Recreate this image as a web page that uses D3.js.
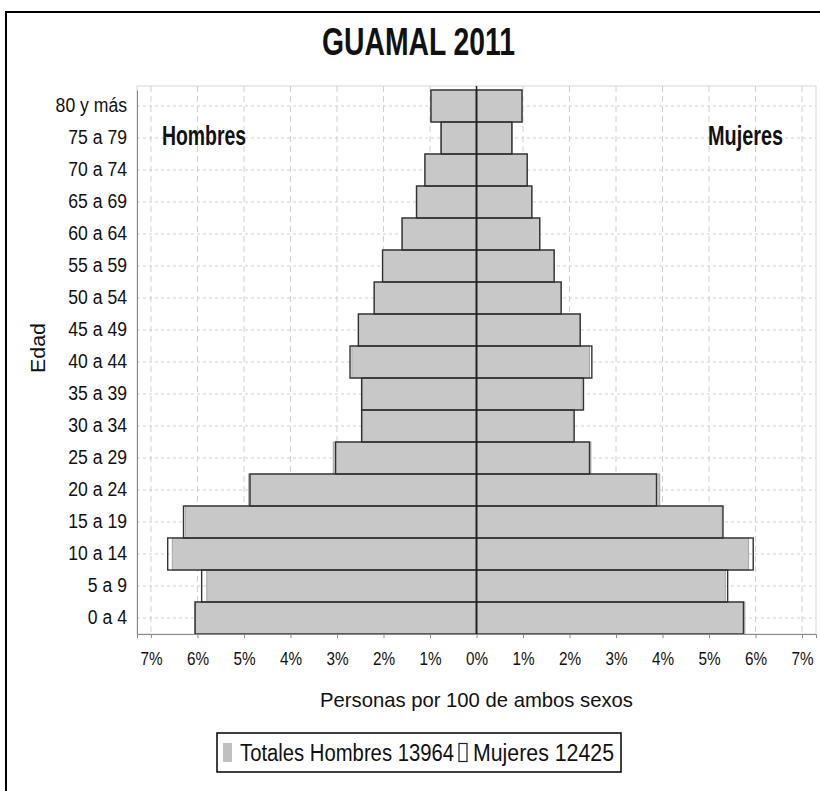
<!DOCTYPE html>
<html><head><meta charset="utf-8">
<script src="https://cdn.jsdelivr.net/npm/d3@7"></script>
<style>
body{margin:0;background:#fff;}
svg{display:block;}
text{font-family:"Liberation Sans",Arial,sans-serif;fill:#111;}
</style>
</head><body>
<svg id="chart" width="820" height="791"></svg>
<script>
// ---- data ----
const categories = ["0 a 4","5 a 9","10 a 14","15 a 19","20 a 24","25 a 29","30 a 34","35 a 39","40 a 44","45 a 49","50 a 54","55 a 59","60 a 64","65 a 69","70 a 74","75 a 79","80 y más"];
// grey filled bars (totales)
const totalMale   = [6.06,5.80,6.54,6.26,4.90,3.08,2.45,2.45,2.68,2.54,2.20,2.02,1.60,1.28,1.10,0.77,0.97];
const totalFemale = [5.77,5.35,5.85,5.28,3.94,2.46,2.08,2.27,2.43,2.23,1.82,1.67,1.36,1.19,1.09,0.77,0.97];
// outlined bars
const outlineMale   = [6.05,5.91,6.64,6.30,4.87,3.03,2.47,2.47,2.72,2.54,2.20,2.02,1.60,1.29,1.11,0.76,0.98];
const outlineFemale = [5.74,5.40,5.95,5.30,3.87,2.43,2.10,2.30,2.48,2.23,1.82,1.67,1.36,1.19,1.09,0.76,0.98];
const tickValues = [-7,-6,-5,-4,-3,-2,-1,0,1,2,3,4,5,6,7];
const titleText = "GUAMAL 2011";
const xTitle = "Personas por 100 de ambos sexos";
const yTitle = "Edad";
const leftLabel = "Hombres", rightLabel = "Mujeres";
const legendItems = ["Totales Hombres 13964", "Mujeres 12425"];

// ---- layout ----
const svg = d3.select("#chart");
const P = {left:137, right:816, top:86, bottom:634};
const x = d3.scaleLinear().domain([-7.3,7.3]).range([P.left,P.right]);
const y = d3.scaleBand().domain(categories.slice().reverse()).range([90,P.bottom]).paddingInner(0).paddingOuter(0);

function squeeze(sel, ratio){
  sel.each(function(){
    const w = this.getComputedTextLength();
    d3.select(this).attr("textLength", w*ratio).attr("lengthAdjust","spacingAndGlyphs");
  });
}
function fitWidth(sel, w){
  sel.attr("textLength", w).attr("lengthAdjust","spacingAndGlyphs");
}

// outer frame
svg.append("rect").attr("x",6).attr("y",12).attr("width",830).attr("height",800)
  .attr("fill","none").attr("stroke","#000").attr("stroke-width",2);

// title
svg.append("text").attr("x",418.5).attr("y",55).attr("text-anchor","middle")
  .attr("font-size",38).attr("font-weight","bold").text(titleText).call(fitWidth,193);

// plot background/border
svg.append("rect").attr("x",P.left).attr("y",P.top).attr("width",P.right-P.left).attr("height",P.bottom-P.top)
  .attr("fill","#fff").attr("stroke","#d8d8d8").attr("stroke-width",1);

// gridlines
const grid = svg.append("g");
grid.selectAll("line.v").data(tickValues.filter(d=>d!==0)).join("line")
  .attr("x1",d=>x(d)).attr("x2",d=>x(d)).attr("y1",P.top).attr("y2",P.bottom)
  .attr("stroke","#d0d0d0").attr("stroke-width",1).attr("stroke-dasharray","6,4");
grid.selectAll("line.h").data(categories).join("line")
  .attr("x1",P.left).attr("x2",P.right).attr("y1",d=>y(d)+y.bandwidth()/2).attr("y2",d=>y(d)+y.bandwidth()/2)
  .attr("stroke","#d0d0d0").attr("stroke-width",1).attr("stroke-dasharray","3,3");

// grey bars
const bars = svg.append("g");
bars.selectAll("rect.gm").data(categories).join("rect")
  .attr("x",(d,i)=>x(-totalMale[i])).attr("y",d=>y(d))
  .attr("width",(d,i)=>x(0)-x(-totalMale[i])).attr("height",y.bandwidth())
  .attr("fill","#c8c8c8").attr("stroke","#a8a8a8").attr("stroke-width",1);
bars.selectAll("rect.gf").data(categories).join("rect")
  .attr("x",x(0)).attr("y",d=>y(d))
  .attr("width",(d,i)=>x(totalFemale[i])-x(0)).attr("height",y.bandwidth())
  .attr("fill","#c8c8c8").attr("stroke","#a8a8a8").attr("stroke-width",1);
// outline bars
const outl = svg.append("g");
outl.selectAll("rect.om").data(categories).join("rect")
  .attr("x",(d,i)=>x(-outlineMale[i])).attr("y",d=>y(d))
  .attr("width",(d,i)=>x(0)-x(-outlineMale[i])).attr("height",y.bandwidth())
  .attr("fill","none").attr("stroke","#333").attr("stroke-width",1.4);
outl.selectAll("rect.of").data(categories).join("rect")
  .attr("x",x(0)).attr("y",d=>y(d))
  .attr("width",(d,i)=>x(outlineFemale[i])-x(0)).attr("height",y.bandwidth())
  .attr("fill","none").attr("stroke","#333").attr("stroke-width",1.4);

// center line
svg.append("line").attr("x1",x(0)).attr("x2",x(0)).attr("y1",P.top).attr("y2",P.bottom)
  .attr("stroke","#222").attr("stroke-width",1.5);

// axes
const xAxis = svg.append("g").attr("transform",`translate(0,${P.bottom})`)
  .call(d3.axisBottom(x).tickValues(tickValues).tickSize(4).tickPadding(14).tickFormat(d=>Math.abs(d)+"%"));
xAxis.select(".domain").attr("stroke","#888");
xAxis.selectAll(".tick line").attr("stroke","#888");
xAxis.selectAll(".tick text").attr("font-size",18).attr("font-family",'"Liberation Sans",Arial,sans-serif').attr("fill","#111").call(squeeze,0.85);

const yAxis = svg.append("g").attr("transform",`translate(${P.left},0)`)
  .call(d3.axisLeft(y).tickSize(0).tickPadding(10));
yAxis.select(".domain").attr("stroke","#888");
yAxis.selectAll(".tick text").attr("font-size",20).attr("font-family",'"Liberation Sans",Arial,sans-serif').attr("fill","#111").call(squeeze,0.88);

// axis titles
svg.append("text").attr("x",476.5).attr("y",707).attr("text-anchor","middle")
  .attr("font-size",21).text(xTitle).call(fitWidth,313);
svg.append("text").attr("transform","translate(45,348) rotate(-90)").attr("text-anchor","middle")
  .attr("font-size",20).text(yTitle).call(fitWidth,50);

// side labels
svg.append("text").attr("x",162).attr("y",145).attr("font-size",28).attr("font-weight","bold")
  .attr("fill","#333").text(leftLabel).call(fitWidth,84);
svg.append("text").attr("x",708).attr("y",145).attr("font-size",28).attr("font-weight","bold")
  .attr("fill","#333").text(rightLabel).call(fitWidth,75);

// legend
const lg = svg.append("g");
lg.append("rect").attr("x",217).attr("y",733).attr("width",404).attr("height",39)
  .attr("fill","#fff").attr("stroke","#000").attr("stroke-width",1.5);
lg.append("rect").attr("x",223).attr("y",743).attr("width",9).attr("height",19).attr("fill","#c0c0c0");
lg.append("text").attr("x",240).attr("y",761).attr("font-size",23).text(legendItems[0]).call(fitWidth,214);
lg.append("rect").attr("x",459).attr("y",743.5).attr("width",8).attr("height",18)
  .attr("fill","none").attr("stroke","#222").attr("stroke-width",1.2);
lg.append("text").attr("x",473).attr("y",761).attr("font-size",23).text(legendItems[1]).call(fitWidth,141);
</script>
</body></html>
